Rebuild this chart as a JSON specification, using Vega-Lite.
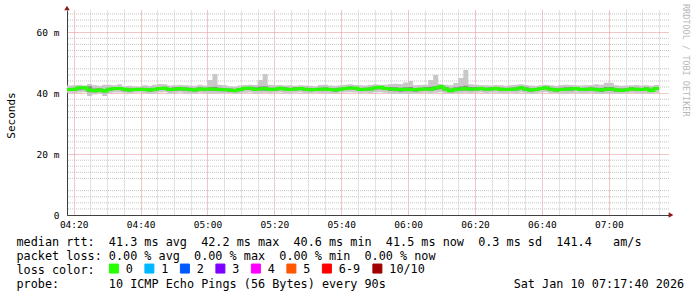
{
"$schema": "https://vega.github.io/schema/vega-lite/v6.json",
"width": 602, "height": 205,
"autosize": {"type": "none"},
"padding": {"left": 67, "top": 10, "right": 28, "bottom": 82},
"background": "white",
"config": {"view": {"stroke": null}, "font": "DejaVu Sans Mono",
  "axis": {"titleFontWeight": "normal", "titleFont": "DejaVu Sans Mono", "labelFont": "DejaVu Sans Mono", "labelColor": "black", "titleColor": "black"},
  "axisY": {"labelOverlap": false}},
"title": {"text": "RRDTOOL / TOBI OETIKER", "orient": "right", "anchor": "start", "frame": "group", "offset": -2, "fontSize": 8.5, "fontWeight": "normal", "color": "#b8b8b8", "font": "DejaVu Sans Mono", "dx": -6},
"data": {"values": [
{"t":"2026-01-10T04:18:00","md":41.2,"lo":40.1,"q1":40.7,"q3":41.7,"hi":42.5,"loss":"0"},
{"t":"2026-01-10T04:19:30","md":41.3,"lo":40.0,"q1":40.8,"q3":41.8,"hi":42.6,"loss":"0"},
{"t":"2026-01-10T04:21:00","md":41.8,"lo":40.2,"q1":41.0,"q3":42.1,"hi":42.7,"loss":"0"},
{"t":"2026-01-10T04:22:30","md":41.8,"lo":40.3,"q1":41.2,"q3":42.2,"hi":42.5,"loss":"0"},
{"t":"2026-01-10T04:24:00","md":41.0,"lo":39.1,"q1":40.3,"q3":42.3,"hi":43.0,"loss":"0"},
{"t":"2026-01-10T04:25:30","md":40.8,"lo":39.6,"q1":40.3,"q3":41.5,"hi":42.6,"loss":"0"},
{"t":"2026-01-10T04:27:00","md":41.0,"lo":39.9,"q1":40.5,"q3":41.6,"hi":42.4,"loss":"0"},
{"t":"2026-01-10T04:28:30","md":40.7,"lo":39.1,"q1":40.2,"q3":41.4,"hi":42.8,"loss":"0"},
{"t":"2026-01-10T04:30:00","md":41.3,"lo":40.0,"q1":40.8,"q3":41.8,"hi":42.8,"loss":"0"},
{"t":"2026-01-10T04:31:30","md":41.5,"lo":40.2,"q1":41.0,"q3":41.9,"hi":42.6,"loss":"0"},
{"t":"2026-01-10T04:33:00","md":41.5,"lo":40.2,"q1":41.0,"q3":42.0,"hi":42.9,"loss":"0"},
{"t":"2026-01-10T04:34:30","md":41.3,"lo":40.1,"q1":40.6,"q3":41.7,"hi":42.3,"loss":"0"},
{"t":"2026-01-10T04:36:00","md":41.0,"lo":39.9,"q1":40.5,"q3":41.5,"hi":42.4,"loss":"0"},
{"t":"2026-01-10T04:37:30","md":41.2,"lo":40.1,"q1":40.7,"q3":41.6,"hi":42.3,"loss":"0"},
{"t":"2026-01-10T04:39:00","md":41.3,"lo":40.2,"q1":40.8,"q3":41.7,"hi":42.2,"loss":"0"},
{"t":"2026-01-10T04:40:30","md":41.2,"lo":40.0,"q1":40.7,"q3":41.8,"hi":42.6,"loss":"0"},
{"t":"2026-01-10T04:42:00","md":41.0,"lo":39.8,"q1":40.5,"q3":41.6,"hi":42.4,"loss":"0"},
{"t":"2026-01-10T04:43:30","md":41.3,"lo":40.0,"q1":40.8,"q3":41.7,"hi":42.8,"loss":"0"},
{"t":"2026-01-10T04:45:00","md":41.5,"lo":40.2,"q1":41.0,"q3":42.0,"hi":43.0,"loss":"0"},
{"t":"2026-01-10T04:46:30","md":41.6,"lo":40.3,"q1":41.1,"q3":42.1,"hi":42.9,"loss":"0"},
{"t":"2026-01-10T04:48:00","md":41.2,"lo":39.8,"q1":40.6,"q3":41.7,"hi":42.5,"loss":"0"},
{"t":"2026-01-10T04:49:30","md":41.3,"lo":40.0,"q1":40.7,"q3":41.9,"hi":42.6,"loss":"0"},
{"t":"2026-01-10T04:51:00","md":41.5,"lo":40.2,"q1":40.9,"q3":42.0,"hi":42.7,"loss":"0"},
{"t":"2026-01-10T04:52:30","md":41.4,"lo":39.9,"q1":40.8,"q3":41.9,"hi":42.6,"loss":"0"},
{"t":"2026-01-10T04:54:00","md":41.2,"lo":39.9,"q1":40.6,"q3":41.8,"hi":42.5,"loss":"0"},
{"t":"2026-01-10T04:55:30","md":41.0,"lo":39.8,"q1":40.5,"q3":41.5,"hi":42.4,"loss":"0"},
{"t":"2026-01-10T04:57:00","md":41.4,"lo":40.1,"q1":40.9,"q3":41.9,"hi":42.8,"loss":"0"},
{"t":"2026-01-10T04:58:30","md":41.3,"lo":40.0,"q1":40.7,"q3":41.8,"hi":42.5,"loss":"0"},
{"t":"2026-01-10T05:00:00","md":41.4,"lo":39.9,"q1":40.8,"q3":42.0,"hi":44.3,"loss":"0"},
{"t":"2026-01-10T05:01:30","md":41.3,"lo":39.9,"q1":40.7,"q3":42.1,"hi":46.3,"loss":"0"},
{"t":"2026-01-10T05:03:00","md":41.2,"lo":40.0,"q1":40.6,"q3":41.8,"hi":42.8,"loss":"0"},
{"t":"2026-01-10T05:04:30","md":41.1,"lo":39.9,"q1":40.6,"q3":41.6,"hi":42.6,"loss":"0"},
{"t":"2026-01-10T05:06:00","md":41.0,"lo":40.0,"q1":40.4,"q3":41.5,"hi":42.3,"loss":"0"},
{"t":"2026-01-10T05:07:30","md":40.9,"lo":39.8,"q1":40.3,"q3":41.4,"hi":42.2,"loss":"0"},
{"t":"2026-01-10T05:09:00","md":41.2,"lo":39.9,"q1":40.6,"q3":41.7,"hi":42.5,"loss":"0"},
{"t":"2026-01-10T05:10:30","md":41.6,"lo":40.1,"q1":41.0,"q3":42.0,"hi":42.7,"loss":"0"},
{"t":"2026-01-10T05:12:00","md":41.6,"lo":40.2,"q1":41.0,"q3":42.1,"hi":42.8,"loss":"0"},
{"t":"2026-01-10T05:13:30","md":41.3,"lo":39.9,"q1":40.8,"q3":41.9,"hi":42.7,"loss":"0"},
{"t":"2026-01-10T05:15:00","md":41.4,"lo":40.0,"q1":40.9,"q3":42.2,"hi":44.3,"loss":"0"},
{"t":"2026-01-10T05:16:30","md":41.5,"lo":40.1,"q1":40.8,"q3":42.3,"hi":46.3,"loss":"0"},
{"t":"2026-01-10T05:18:00","md":41.2,"lo":40.0,"q1":40.7,"q3":41.8,"hi":42.8,"loss":"0"},
{"t":"2026-01-10T05:19:30","md":41.3,"lo":40.1,"q1":40.8,"q3":41.8,"hi":42.6,"loss":"0"},
{"t":"2026-01-10T05:21:00","md":41.6,"lo":40.2,"q1":41.1,"q3":42.0,"hi":42.7,"loss":"0"},
{"t":"2026-01-10T05:22:30","md":41.4,"lo":40.0,"q1":40.9,"q3":41.9,"hi":42.5,"loss":"0"},
{"t":"2026-01-10T05:24:00","md":41.2,"lo":39.9,"q1":40.7,"q3":41.7,"hi":42.6,"loss":"0"},
{"t":"2026-01-10T05:25:30","md":41.4,"lo":40.1,"q1":40.9,"q3":41.9,"hi":42.4,"loss":"0"},
{"t":"2026-01-10T05:27:00","md":41.5,"lo":40.2,"q1":41.0,"q3":42.0,"hi":42.6,"loss":"0"},
{"t":"2026-01-10T05:28:30","md":41.3,"lo":39.9,"q1":40.8,"q3":41.8,"hi":42.5,"loss":"0"},
{"t":"2026-01-10T05:30:00","md":41.1,"lo":40.0,"q1":40.6,"q3":41.6,"hi":42.4,"loss":"0"},
{"t":"2026-01-10T05:31:30","md":41.2,"lo":40.1,"q1":40.7,"q3":41.7,"hi":42.3,"loss":"0"},
{"t":"2026-01-10T05:33:00","md":41.3,"lo":40.0,"q1":40.8,"q3":41.8,"hi":42.7,"loss":"0"},
{"t":"2026-01-10T05:34:30","md":41.4,"lo":39.9,"q1":40.8,"q3":41.9,"hi":42.8,"loss":"0"},
{"t":"2026-01-10T05:36:00","md":41.2,"lo":39.9,"q1":40.7,"q3":41.7,"hi":42.5,"loss":"0"},
{"t":"2026-01-10T05:37:30","md":41.0,"lo":40.0,"q1":40.5,"q3":41.6,"hi":42.4,"loss":"0"},
{"t":"2026-01-10T05:39:00","md":41.3,"lo":40.1,"q1":40.8,"q3":41.8,"hi":42.6,"loss":"0"},
{"t":"2026-01-10T05:40:30","md":41.5,"lo":40.2,"q1":41.0,"q3":42.0,"hi":42.8,"loss":"0"},
{"t":"2026-01-10T05:42:00","md":41.7,"lo":40.3,"q1":41.2,"q3":42.2,"hi":42.9,"loss":"0"},
{"t":"2026-01-10T05:43:30","md":41.6,"lo":40.2,"q1":41.1,"q3":42.0,"hi":42.7,"loss":"0"},
{"t":"2026-01-10T05:45:00","md":41.2,"lo":40.0,"q1":40.7,"q3":41.7,"hi":42.6,"loss":"0"},
{"t":"2026-01-10T05:46:30","md":41.3,"lo":40.1,"q1":40.8,"q3":41.8,"hi":42.5,"loss":"0"},
{"t":"2026-01-10T05:48:00","md":41.4,"lo":40.0,"q1":40.9,"q3":41.9,"hi":42.7,"loss":"0"},
{"t":"2026-01-10T05:49:30","md":41.8,"lo":40.2,"q1":41.2,"q3":42.2,"hi":42.9,"loss":"0"},
{"t":"2026-01-10T05:51:00","md":41.9,"lo":40.3,"q1":41.3,"q3":42.3,"hi":42.8,"loss":"0"},
{"t":"2026-01-10T05:52:30","md":41.5,"lo":40.1,"q1":41.0,"q3":42.0,"hi":42.8,"loss":"0"},
{"t":"2026-01-10T05:54:00","md":41.4,"lo":39.9,"q1":40.7,"q3":42.0,"hi":43.0,"loss":"0"},
{"t":"2026-01-10T05:55:30","md":41.3,"lo":39.8,"q1":40.6,"q3":41.9,"hi":43.1,"loss":"0"},
{"t":"2026-01-10T05:57:00","md":41.2,"lo":39.8,"q1":40.5,"q3":41.8,"hi":43.0,"loss":"0"},
{"t":"2026-01-10T05:58:30","md":41.3,"lo":39.7,"q1":40.6,"q3":41.9,"hi":43.5,"loss":"0"},
{"t":"2026-01-10T06:00:00","md":41.2,"lo":39.8,"q1":40.6,"q3":42.0,"hi":44.0,"loss":"0"},
{"t":"2026-01-10T06:01:30","md":41.1,"lo":39.9,"q1":40.5,"q3":41.7,"hi":42.6,"loss":"0"},
{"t":"2026-01-10T06:03:00","md":41.3,"lo":40.0,"q1":40.8,"q3":41.8,"hi":42.7,"loss":"0"},
{"t":"2026-01-10T06:04:30","md":41.4,"lo":40.1,"q1":40.9,"q3":42.0,"hi":42.8,"loss":"0"},
{"t":"2026-01-10T06:06:00","md":41.3,"lo":39.9,"q1":40.7,"q3":42.1,"hi":44.3,"loss":"0"},
{"t":"2026-01-10T06:07:30","md":41.7,"lo":40.1,"q1":41.0,"q3":42.3,"hi":46.0,"loss":"0"},
{"t":"2026-01-10T06:09:00","md":42.1,"lo":40.3,"q1":41.4,"q3":42.5,"hi":43.0,"loss":"0"},
{"t":"2026-01-10T06:10:30","md":41.4,"lo":40.0,"q1":40.8,"q3":42.0,"hi":42.8,"loss":"0"},
{"t":"2026-01-10T06:12:00","md":40.8,"lo":39.9,"q1":40.3,"q3":41.5,"hi":42.6,"loss":"0"},
{"t":"2026-01-10T06:13:30","md":41.2,"lo":40.0,"q1":40.6,"q3":41.9,"hi":43.3,"loss":"0"},
{"t":"2026-01-10T06:15:00","md":41.4,"lo":40.0,"q1":40.8,"q3":42.2,"hi":45.0,"loss":"0"},
{"t":"2026-01-10T06:16:30","md":41.5,"lo":40.1,"q1":40.9,"q3":42.4,"hi":47.6,"loss":"0"},
{"t":"2026-01-10T06:18:00","md":41.3,"lo":40.0,"q1":40.8,"q3":42.0,"hi":42.9,"loss":"0"},
{"t":"2026-01-10T06:19:30","md":41.4,"lo":40.1,"q1":40.9,"q3":42.0,"hi":42.8,"loss":"0"},
{"t":"2026-01-10T06:21:00","md":41.5,"lo":40.2,"q1":41.0,"q3":42.0,"hi":42.7,"loss":"0"},
{"t":"2026-01-10T06:22:30","md":41.3,"lo":40.0,"q1":40.8,"q3":41.8,"hi":42.6,"loss":"0"},
{"t":"2026-01-10T06:24:00","md":41.4,"lo":40.1,"q1":40.9,"q3":41.9,"hi":42.5,"loss":"0"},
{"t":"2026-01-10T06:25:30","md":41.5,"lo":40.1,"q1":41.0,"q3":42.0,"hi":42.7,"loss":"0"},
{"t":"2026-01-10T06:27:00","md":41.3,"lo":39.9,"q1":40.8,"q3":41.8,"hi":42.6,"loss":"0"},
{"t":"2026-01-10T06:28:30","md":41.2,"lo":40.0,"q1":40.7,"q3":41.7,"hi":42.4,"loss":"0"},
{"t":"2026-01-10T06:30:00","md":41.3,"lo":40.1,"q1":40.8,"q3":41.8,"hi":42.6,"loss":"0"},
{"t":"2026-01-10T06:31:30","md":41.4,"lo":40.0,"q1":40.9,"q3":41.9,"hi":42.8,"loss":"0"},
{"t":"2026-01-10T06:33:00","md":41.8,"lo":40.2,"q1":41.2,"q3":42.2,"hi":42.9,"loss":"0"},
{"t":"2026-01-10T06:34:30","md":41.3,"lo":39.9,"q1":40.8,"q3":41.9,"hi":42.7,"loss":"0"},
{"t":"2026-01-10T06:36:00","md":41.0,"lo":39.8,"q1":40.5,"q3":41.6,"hi":42.5,"loss":"0"},
{"t":"2026-01-10T06:37:30","md":41.2,"lo":40.0,"q1":40.7,"q3":41.7,"hi":42.4,"loss":"0"},
{"t":"2026-01-10T06:39:00","md":41.5,"lo":40.2,"q1":41.0,"q3":42.0,"hi":42.6,"loss":"0"},
{"t":"2026-01-10T06:40:30","md":41.8,"lo":40.3,"q1":41.2,"q3":42.2,"hi":42.8,"loss":"0"},
{"t":"2026-01-10T06:42:00","md":41.3,"lo":40.0,"q1":40.8,"q3":41.8,"hi":42.6,"loss":"0"},
{"t":"2026-01-10T06:43:30","md":41.0,"lo":39.9,"q1":40.5,"q3":41.6,"hi":42.4,"loss":"0"},
{"t":"2026-01-10T06:45:00","md":41.2,"lo":40.0,"q1":40.7,"q3":41.8,"hi":42.7,"loss":"0"},
{"t":"2026-01-10T06:46:30","md":41.3,"lo":39.8,"q1":40.7,"q3":41.9,"hi":42.8,"loss":"0"},
{"t":"2026-01-10T06:48:00","md":41.4,"lo":40.0,"q1":40.8,"q3":42.0,"hi":42.7,"loss":"0"},
{"t":"2026-01-10T06:49:30","md":41.5,"lo":40.1,"q1":41.0,"q3":42.0,"hi":42.6,"loss":"0"},
{"t":"2026-01-10T06:51:00","md":41.2,"lo":39.9,"q1":40.7,"q3":41.7,"hi":42.5,"loss":"0"},
{"t":"2026-01-10T06:52:30","md":41.3,"lo":40.0,"q1":40.8,"q3":41.8,"hi":42.6,"loss":"0"},
{"t":"2026-01-10T06:54:00","md":41.4,"lo":40.1,"q1":40.9,"q3":41.9,"hi":42.7,"loss":"0"},
{"t":"2026-01-10T06:55:30","md":41.2,"lo":39.8,"q1":40.6,"q3":41.8,"hi":42.9,"loss":"0"},
{"t":"2026-01-10T06:57:00","md":41.0,"lo":39.7,"q1":40.4,"q3":41.7,"hi":42.8,"loss":"0"},
{"t":"2026-01-10T06:58:30","md":41.3,"lo":39.8,"q1":40.7,"q3":42.0,"hi":43.4,"loss":"0"},
{"t":"2026-01-10T07:00:00","md":41.4,"lo":39.9,"q1":40.8,"q3":42.0,"hi":43.4,"loss":"0"},
{"t":"2026-01-10T07:01:30","md":41.1,"lo":39.9,"q1":40.5,"q3":41.6,"hi":42.6,"loss":"0"},
{"t":"2026-01-10T07:03:00","md":40.9,"lo":39.8,"q1":40.4,"q3":41.5,"hi":42.4,"loss":"0"},
{"t":"2026-01-10T07:04:30","md":41.1,"lo":40.0,"q1":40.6,"q3":41.6,"hi":42.5,"loss":"0"},
{"t":"2026-01-10T07:06:00","md":41.4,"lo":40.1,"q1":40.9,"q3":41.9,"hi":42.6,"loss":"0"},
{"t":"2026-01-10T07:07:30","md":41.3,"lo":40.0,"q1":40.8,"q3":41.8,"hi":42.7,"loss":"0"},
{"t":"2026-01-10T07:09:00","md":41.2,"lo":39.9,"q1":40.7,"q3":41.7,"hi":42.5,"loss":"0"},
{"t":"2026-01-10T07:10:30","md":41.4,"lo":40.0,"q1":40.9,"q3":41.9,"hi":42.6,"loss":"0"},
{"t":"2026-01-10T07:12:00","md":40.9,"lo":39.8,"q1":40.4,"q3":41.5,"hi":42.4,"loss":"0"},
{"t":"2026-01-10T07:13:30","md":41.5,"lo":40.1,"q1":41.0,"q3":42.0,"hi":42.7,"loss":"0"},
{"t":"2026-01-10T07:15:00","md":41.5,"lo":40.1,"q1":41.0,"q3":42.0,"hi":42.7,"loss":"0"}
]},
"layer": [
 {"data": {"values": [{"g":2},{"g":4},{"g":6},{"g":8},{"g":12},{"g":14},{"g":16},{"g":18},{"g":22},{"g":24},{"g":26},{"g":28},{"g":32},{"g":34},{"g":36},{"g":38},{"g":42},{"g":44},{"g":46},{"g":48},{"g":52},{"g":54},{"g":56},{"g":58},{"g":62},{"g":64},{"g":66}]},
  "mark": {"type": "rule", "color": "#c4c4c4", "strokeDash": [1, 1], "strokeWidth": 1},
  "encoding": {"y": {"field": "g", "type": "quantitative", "scale": {"domain": [0, 67.3], "nice": false},
     "axis": {"orient": "left", "values": [0, 10, 20, 30, 40, 50, 60],
       "grid": true, "gridDash": [1, 1], "gridColor": "#e48c8c",
       "labelExpr": "datum.label == '0' ? '0' : datum.label + ' m'",
       "labelFontSize": 9.5, "labelPadding": 8, "labelOverlap": false, "labelFlush": false, "ticks": false, "domain": true, "domainColor": "#404040",
       "title": "Seconds", "titleFontSize": 11, "titleX": -56, "titleY": 105, "titleAngle": 270, "titleAlign": "center", "titleBaseline": "middle"}}}},
 {"mark": {"type": "area", "interpolate": "step-after", "color": "#c8c8c8"},
  "encoding": {
   "x": {"field": "t", "type": "temporal",
    "scale": {"domain": [{"year": 2026, "month": 1, "date": 10, "hours": 4, "minutes": 18}, {"year": 2026, "month": 1, "date": 10, "hours": 7, "minutes": 18}]},
    "axis": {"orient": "bottom", "grid": true, "gridDash": [1, 1], "gridColor": {"condition": {"test": "minutes(datum.value) % 20 == 0", "value": "#e48c8c"}, "value": "#c4c4c4"},
      "tickCount": 36, "labelExpr": "minutes(datum.value) % 20 == 0 ? timeFormat(datum.value, '%H:%M') : ''", "labelFontSize": 9.5, "labelPadding": 4, "labelFlush": false, "ticks": false, "domain": true, "domainColor": "#404040", "labelOverlap": false,
      "title": ["median rtt:\u00a0\u00a041.3 ms avg\u00a0\u00a042.2 ms max\u00a0\u00a040.6 ms min\u00a0\u00a041.5 ms now\u00a0\u00a00.3 ms sd\u00a0\u00a0141.4\u00a0\u00a0\u00a0am/s", "packet loss: 0.00 % avg\u00a0\u00a00.00 % max\u00a0\u00a00.00 % min\u00a0\u00a00.00 % now", "loss color:", "probe:\u00a0\u00a0\u00a0\u00a0\u00a0\u00a0\u00a010 ICMP Echo Pings (56 Bytes) every 90s\u00a0\u00a0\u00a0\u00a0\u00a0\u00a0\u00a0\u00a0\u00a0\u00a0\u00a0\u00a0\u00a0\u00a0\u00a0\u00a0\u00a0\u00a0Sat Jan 10 07:17:40 2026"],
      "titleFontSize": 11.8, "titleLineHeight": 14, "titleX": -51, "titleY": 30, "titleAlign": "left", "titleAnchor": "start", "titleBaseline": "alphabetic"}},
   "y": {"field": "lo", "type": "quantitative"},
   "y2": {"field": "hi"}}},
 {"mark": {"type": "area", "interpolate": "step-after", "color": "#8c8c8c"},
  "encoding": {
   "x": {"field": "t", "type": "temporal"},
   "y": {"field": "q1", "type": "quantitative"},
   "y2": {"field": "q3"}}},
 {"mark": {"type": "line", "interpolate": "step-after", "strokeWidth": 3},
  "encoding": {
   "x": {"field": "t", "type": "temporal"},
   "y": {"field": "md", "type": "quantitative"},
   "color": {"field": "loss", "type": "nominal",
     "scale": {"domain": ["0", "1", "2", "3", "4", "5", "6-9", "10/10"], "range": ["#26ff00", "#00b8ff", "#0059ff", "#7e00ff", "#ff00ff", "#ff5500", "#ff0000", "#a10000"]},
     "legend": {"orient": "none", "legendX": 41, "legendY": 252.5, "direction": "horizontal", "title": null, "symbolType": "square", "symbolSize": 81, "labelFont": "DejaVu Sans Mono", "labelFontSize": 11.8, "labelColor": "black", "labelOffset": 6, "columnPadding": 9.5, "labelLimit": 200, "padding": 0,
       "encode": {"symbols": {"update": {"fill": {"scale": "color", "field": "value"}, "stroke": {"value": "black"}, "strokeWidth": {"value": 1}}}}}}}},
 {"data": {"values": [{}]},
  "mark": {"type": "point", "shape": "triangle-up", "filled": true, "color": "#8b1a1a", "size": 30, "opacity": 1, "yOffset": -2},
  "encoding": {
   "x": {"datum": {"expr": "datetime(2026, 0, 10, 4, 18)"}, "type": "temporal"},
   "y": {"datum": 67.3, "type": "quantitative"}}},
 {"data": {"values": [{}]},
  "mark": {"type": "point", "shape": "triangle-right", "filled": true, "color": "#8b1a1a", "size": 30, "opacity": 1, "xOffset": 2},
  "encoding": {
   "x": {"datum": {"expr": "datetime(2026, 0, 10, 7, 18)"}, "type": "temporal"},
   "y": {"datum": 0, "type": "quantitative"}}}
]
}
